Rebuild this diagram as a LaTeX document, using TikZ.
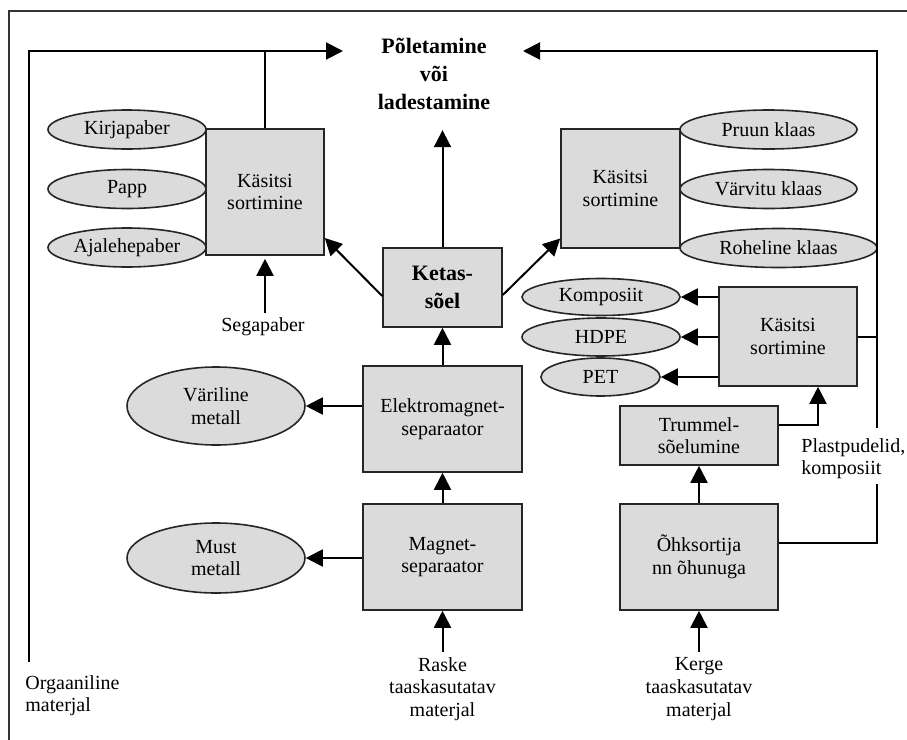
\documentclass[tikz,border=0pt]{standalone}
\usepackage{fontspec}
\setmainfont{Liberation Serif}
\usetikzlibrary{shapes.geometric,arrows.meta}
\tikzset{
  txt/.style={font=\fontsize{10}{11.3}\selectfont, align=center},
  box/.style={txt, draw=black!85, line width=0.8pt, fill=black!14, inner sep=0pt},
  oval/.style={txt, ellipse, draw=black!85, line width=0.8pt, fill=black!14, inner sep=0pt},
  lbl/.style={txt, inner sep=2.5pt},
  wire/.style={line width=1pt},
  arr/.style={wire, -{Triangle[length=8.5pt,width=8.5pt]}},
}
\begin{document}
\begin{tikzpicture}[x=0.5pt,y=-0.5pt]
    \useasboundingbox (0,0) rectangle (907,740);
    \draw[black!80, line width=0.6pt] (9,740) -- (9,11) -- (907,11);
    % goal
    \node[inner xsep=0pt, inner ysep=10pt, align=center, font=\fontsize{11}{14}\selectfont\bfseries] (goal) at (434,74) {Põletamine\\või\\ladestamine};
    \coordinate (inL) at (343,51);
    \coordinate (inR) at (523,51);
    % paper
    \node[box, minimum width=59pt, minimum height=63pt] (kasL) at (265,192) {Käsitsi\\sortimine};
    \node[oval, minimum width=79pt, minimum height=19.5pt] (kirja) at (127,129.5) {Kirjapaber};
    \node[oval, minimum width=79pt, minimum height=19.5pt] (papp) at (127,189) {Papp};
    \node[oval, minimum width=79pt, minimum height=19.5pt] (ajal) at (127,247.5) {Ajalehepaber};
    \node[lbl] (sega) at (263,327) {Segapaber};
    % glass
    \node[box, minimum width=59.5pt, minimum height=59.5pt] (kasG) at (620.5,188.5) {Käsitsi\\sortimine};
    \node[oval, minimum width=88.5pt, minimum height=19.5pt] (pruun) at (768.5,129.5) {Pruun klaas};
    \node[oval, minimum width=88.5pt, minimum height=19.5pt] (varv) at (768.5,189) {Värvitu klaas};
    \node[oval, minimum width=98.5pt, minimum height=19.5pt] (rohe) at (778.5,248) {Roheline klaas};
    % heavy fraction
    \node[box, minimum width=59.5pt, minimum height=39.5pt, font=\fontsize{11}{14}\selectfont\bfseries] (ketas) at (442.5,287.5) {Ketas-\\sõel};
    \node[box, minimum width=79.5pt, minimum height=53pt] (elektro) at (442.5,419) {Elektromagnet-\\separaator};
    \node[box, minimum width=79.5pt, minimum height=53pt] (magnet) at (442.5,557) {Magnet-\\separaator};
    \node[oval, minimum width=89pt, minimum height=39pt] (vari) at (216,406) {Väriline\\metall};
    \node[oval, minimum width=89pt, minimum height=35pt] (must) at (216,558) {Must\\metall};
    \node[lbl] (raske) at (442.5,689) {Raske\\taaskasutatav\\materjal};
    % light fraction
    \node[box, minimum width=69pt, minimum height=49.5pt] (kasP) at (788,336.5) {Käsitsi\\sortimine};
    \node[oval, minimum width=79pt, minimum height=18.5pt] (komp) at (601,297) {Komposiit};
    \node[oval, minimum width=79pt, minimum height=19pt] (hdpe) at (601,337) {HDPE};
    \node[oval, minimum width=59.5pt, minimum height=19pt] (pet) at (600.5,377) {PET};
    \node[box, minimum width=79pt, minimum height=29.5pt] (trum) at (699,435.5) {Trummel-\\sõelumine};
    \node[box, minimum width=79pt, minimum height=53pt] (ohk) at (699,557) {Õhksortija\\nn õhunuga};
    \node[lbl] (kerge) at (699,689) {Kerge\\taaskasutatav\\materjal};
    \node[lbl, inner sep=0pt, anchor=west, align=left] (plast) at (801,458.5) {Plastpudelid,\\komposiit};
    \node[lbl, inner sep=0pt, anchor=west, align=left] (org) at (25,695.5) {Orgaaniline\\materjal};
    \coordinate (orgend) at (29,662);
    \coordinate (gapt) at (877,428);
    \coordinate (gapb) at (877,484);
    % connectors
    \draw[arr] (orgend) |- (inL);
    \draw[wire] (kasL.north) -- (kasL.north |- inL);
    \draw[arr] (gapt) |- (inR);
    \draw[wire] ([yshift=7pt]ohk.east) -| (gapb);
    \draw[wire] (kasP.east) -- (kasP.east -| gapt);
    \draw[arr] (ketas.north) -- (ketas.north |- goal.south);
    \draw[arr] ([yshift=-4.25pt]ketas.west) -- ([yshift=-23pt]kasL.east);
    \draw[arr] ([yshift=-3.75pt]ketas.east) -- ([yshift=-25pt]kasG.west);
    \draw[arr] (kasL.south |- sega.north) -- ([yshift=-1.5pt]kasL.south);
    \draw[arr] (elektro.north) -- (ketas.south);
    \draw[arr] (magnet.north) -- (elektro.south);
    \draw[arr] (raske.north) -- (magnet.south);
    \draw[arr] (elektro.west |- vari) -- (vari.east);
    \draw[arr] (magnet.west |- must) -- (must.east);
    \draw[arr] (kerge.north) -- (ohk.south);
    \draw[arr] (ohk.north) -- (trum.south);
    \draw[arr] ([yshift=5.25pt]trum.east) -| ([xshift=15pt]kasP.south);
    \draw[arr] (kasP.west |- komp) -- (komp.east);
    \draw[arr] (kasP.west |- hdpe) -- (hdpe.east);
    \draw[arr] (kasP.west |- pet) -- (pet.east);
\end{tikzpicture}
\end{document}
